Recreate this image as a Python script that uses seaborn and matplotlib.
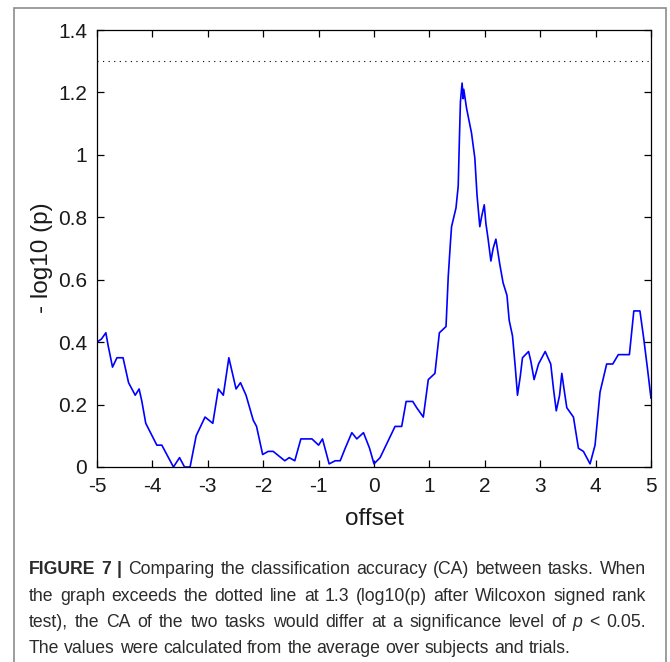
import pandas as pd
import seaborn as sns
import matplotlib
from matplotlib import pyplot as plt
from matplotlib.patches import Rectangle

matplotlib.use('Agg')

# data
offset = [-5.00, -4.92, -4.84, -4.80, -4.72, -4.64, -4.53, -4.43, -4.31, -4.24,
          -4.19, -4.12, -3.92, -3.83, -3.68, -3.62, -3.51, -3.42, -3.32, -3.21,
          -3.05, -2.91, -2.81, -2.72, -2.67, -2.62, -2.49, -2.41, -2.31, -2.18,
          -2.12, -2.01, -1.91, -1.82, -1.61, -1.53, -1.43, -1.32, -1.12, -1.00,
          -0.93, -0.81, -0.70, -0.61, -0.52, -0.40, -0.31, -0.19, -0.08, 0.00,
          0.11, 0.38, 0.50, 0.58, 0.70, 0.77, 0.89, 0.98, 1.10, 1.18,
          1.30, 1.34, 1.38, 1.40, 1.48, 1.52, 1.54, 1.56, 1.59, 1.61,
          1.62, 1.67, 1.76, 1.82, 1.86, 1.91, 1.94, 1.99, 2.02, 2.06,
          2.11, 2.15, 2.20, 2.27, 2.33, 2.40, 2.44, 2.50, 2.55, 2.59,
          2.64, 2.68, 2.79, 2.83, 2.89, 2.97, 3.09, 3.19, 3.24, 3.29,
          3.35, 3.39, 3.43, 3.48, 3.60, 3.69, 3.78, 3.90, 3.99, 4.08,
          4.20, 4.31, 4.41, 4.61, 4.69, 4.80, 4.87, 4.94, 5.00]
neg_log_p = [0.40, 0.41, 0.43, 0.39, 0.32, 0.35, 0.35, 0.27, 0.23, 0.25,
             0.21, 0.14, 0.07, 0.07, 0.02, 0.00, 0.03, 0.00, 0.00, 0.10,
             0.16, 0.14, 0.25, 0.23, 0.29, 0.35, 0.25, 0.27, 0.23, 0.15,
             0.13, 0.04, 0.05, 0.05, 0.02, 0.03, 0.02, 0.09, 0.09, 0.07,
             0.09, 0.01, 0.02, 0.02, 0.06, 0.11, 0.09, 0.11, 0.06, 0.01,
             0.03, 0.13, 0.13, 0.21, 0.21, 0.19, 0.16, 0.28, 0.30, 0.43,
             0.45, 0.61, 0.72, 0.77, 0.83, 0.90, 1.04, 1.17, 1.23, 1.18,
             1.21, 1.15, 1.07, 0.99, 0.87, 0.77, 0.80, 0.84, 0.78, 0.73,
             0.66, 0.70, 0.73, 0.65, 0.59, 0.55, 0.47, 0.42, 0.32, 0.23,
             0.29, 0.35, 0.37, 0.34, 0.28, 0.33, 0.37, 0.33, 0.25, 0.18,
             0.23, 0.30, 0.25, 0.19, 0.16, 0.06, 0.05, 0.01, 0.07, 0.24,
             0.33, 0.33, 0.36, 0.36, 0.50, 0.50, 0.41, 0.31, 0.22]
threshold = 1.3

x_ticks = [-5, -4, -3, -2, -1, 0, 1, 2, 3, 4, 5]
y_ticks = [0, 0.2, 0.4, 0.6, 0.8, 1.0, 1.2, 1.4]
y_tick_labels = ['0', '0.2', '0.4', '0.6', '0.8', '1', '1.2', '1.4']

# caption: (text, weight, style) segments per line
caption_lines = [
    [("FIGURE 7 |", "bold", "normal"),
     ("Comparing the classification accuracy (CA) between tasks. When", "normal", "normal")],
    [("the graph exceeds the dotted line at 1.3 (log10(p) after Wilcoxon signed rank", "normal", "normal")],
    [("test), the CA of the two tasks would differ at a significance level of", "normal", "normal"),
     ("p", "normal", "italic"), ("< 0.05.", "normal", "normal")],
    [("The values were calculated from the average over subjects and trials.", "normal", "normal")],
]
caption_justify = [True, True, True, False]

sns.set_style('ticks')
plt.rcParams['font.family'] = ['Liberation Sans', 'DejaVu Sans']

W, H = 670, 662
fig = plt.figure(figsize=(W / 100, H / 100), dpi=100)
ax = fig.add_axes([97 / W, 1 - 467 / H, 554 / W, 437 / H])

df = pd.DataFrame({'offset': offset, 'neg_log_p': neg_log_p})
sns.lineplot(data=df, x='offset', y='neg_log_p', estimator=None, sort=False,
             color='#0000ff', lw=1.2, ax=ax)
ax.axhline(threshold, color='black', lw=0.8, dashes=(1, 4))

ax.set_xlim(-5, 5)
ax.set_ylim(0, 1.4)
ax.set_xticks(x_ticks)
ax.set_xticklabels([str(t) for t in x_ticks])
ax.set_yticks(y_ticks)
ax.set_yticklabels(y_tick_labels)
ax.tick_params(direction='in', length=5, width=0.9, top=True, right=True,
               labelsize=15, pad=7, labelcolor='#1a1a1a', color='black')
for s in ax.spines.values():
    s.set_linewidth(0.9)
    s.set_color('black')

ax.set_xlabel('offset', fontsize=17.5, color='#1a1a1a')
ax.set_ylabel('- log10 (p)', fontsize=17.5, color='#1a1a1a')
ax.xaxis.set_label_coords(0.5, -0.093)
ax.yaxis.set_label_coords(-0.079, 0.479)

# outer frame
fig.patches.append(Rectangle((14 / W, -0.02), (666 - 14) / W, (H - 8) / H + 0.02,
                             transform=fig.transFigure, fill=False,
                             edgecolor='#8c8c8c', lw=1.2, clip_on=False))

# caption, justified like the journal layout
renderer = fig.canvas.get_renderer()
cap_size = 12.7
cap_left, cap_right = 29, 646
baselines = [574, 601, 627, 653]
space = 0.278 * cap_size * 100 / 72
for line, just, base in zip(caption_lines, caption_justify, baselines):
    words = []
    for text, weight, style in line:
        for w in text.split():
            t = fig.text(0, 1 - base / H, w, fontsize=cap_size, fontweight=weight,
                         fontstyle=style, color='#2b2b2b', va='baseline', ha='left')
            words.append(t)
    widths = [t.get_window_extent(renderer).width for t in words]
    if just:
        gap = (cap_right - cap_left - sum(widths)) / (len(words) - 1)
        gap = max(gap, 0.7 * space)
    else:
        gap = space
    x = cap_left
    for t, w in zip(words, widths):
        t.set_x(x / W)
        x += w + gap

fig.savefig('out.png', dpi=100)
